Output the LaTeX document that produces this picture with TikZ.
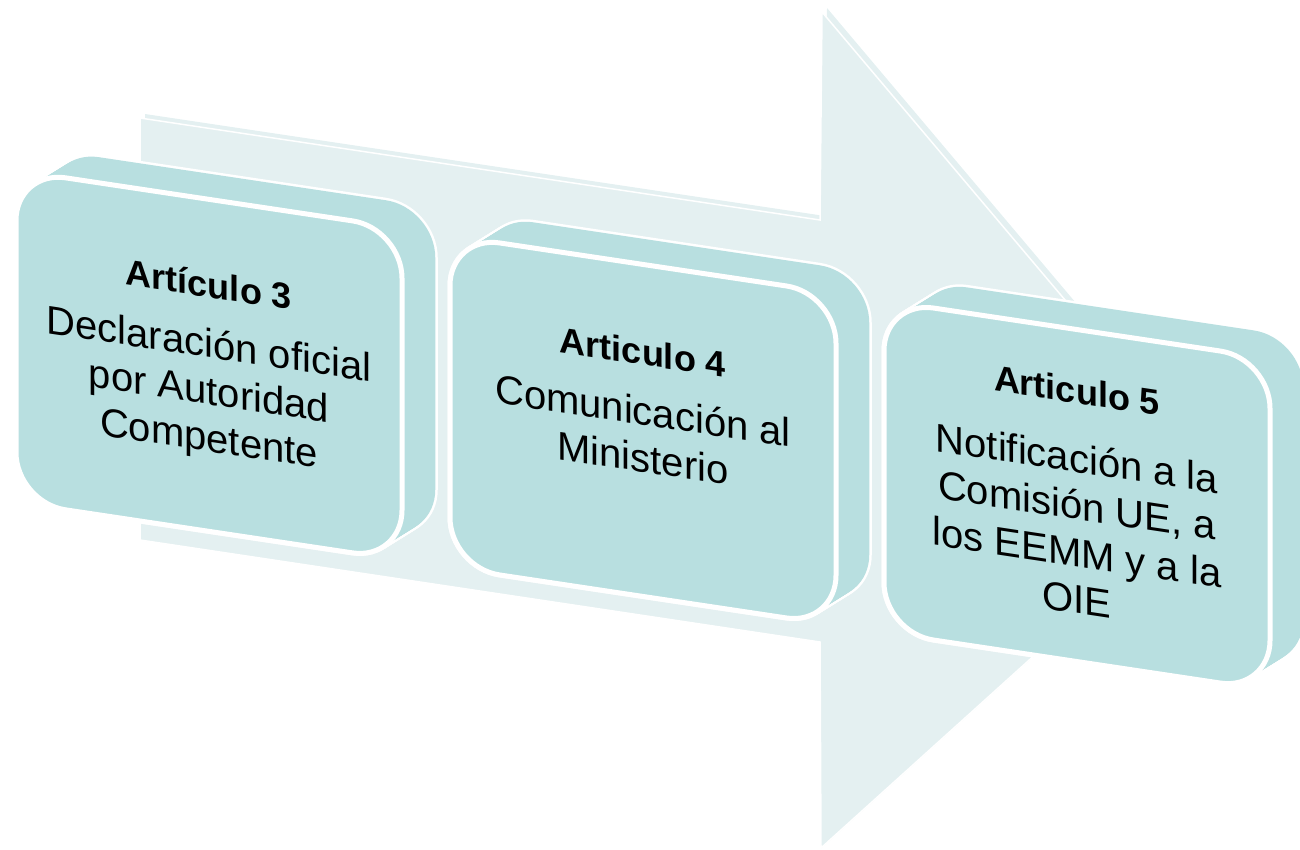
\documentclass[tikz,border=0pt]{standalone}
\usepackage{fontspec}
\setmainfont{Liberation Sans}
\usetikzlibrary{positioning,backgrounds}
\definecolor{stepteal}{HTML}{B8DFE0}
\definecolor{arrowblue}{HTML}{E4F0F1}
\tikzset{
  stepdepth/.style={rectangle, rounded corners=50pt, minimum width=386pt,
    minimum height=332pt, fill=stepteal, transform shape},
  stepface/.style={stepdepth, draw=white, line width=5pt, align=center,
    font=\fontsize{40}{47}\selectfont}
}
\newcommand{\steptitle}[1]{{\bfseries\fontsize{36}{42}\selectfont #1}}

\begin{document}
\begin{tikzpicture}[x=1pt,y=1pt]
   \useasboundingbox (0,0) rectangle (1300,-849);
   % big arrow behind the steps
   \begin{scope}[on background layer]
     \fill[arrowblue, shift={(5,4)}] (140,-118) -- (820,-220) -- (822,-12) -- (1222,-486)
        -- (821,-848) -- (820,-642) -- (140,-540) -- cycle;
     \fill[arrowblue, draw=white, line width=1.5pt] (140,-118) -- (820,-220) -- (822,-12)
        -- (1222,-486) -- (821,-848) -- (820,-642) -- (140,-540) -- cycle;
   \end{scope}
   % the three steps
   \begin{scope}[yslant=-0.15, node distance=434pt, on grid]
     \node[stepface] (art3) at (209,-334)
        {\steptitle{Artículo 3}\\[13pt] Declaración oficial\\ por Autoridad\\ Competente};
     \node[stepface, text depth=50pt] (art4) [right=of art3]
        {\steptitle{Articulo 4}\\[13pt] Comunicación al\\ Ministerio};
     \node[stepface] (art5) [right=of art4]
        {\steptitle{Articulo 5}\\[22pt] Notificación a la\\ Comisión UE, a\\ los EEMM y a la\\ OIE};
   \end{scope}
   % depth of the steps
   \begin{scope}[on background layer, yslant=-0.15]
     \foreach \s in {art3,art4,art5}{
       \foreach \t in {0,0.05,...,1}
         \path (\s.center) ++(35*\t,27*\t) node[stepdepth, draw=white, line width=5pt] {};
       \foreach \t in {0,0.05,...,1}
         \path (\s.center) ++(35*\t,27*\t) node[stepdepth] {};
     }
   \end{scope}
\end{tikzpicture}
\end{document}
